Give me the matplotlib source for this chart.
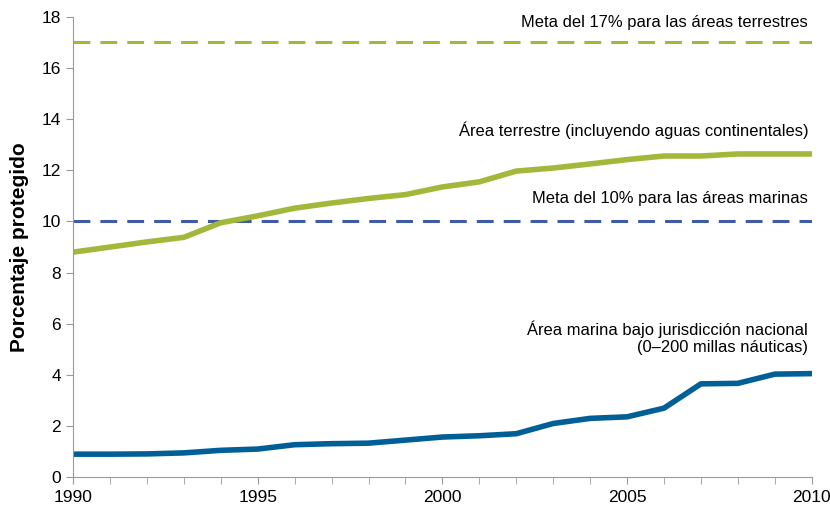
import matplotlib
matplotlib.use("Agg")
import matplotlib.pyplot as plt
from matplotlib.ticker import MultipleLocator

plt.rcParams["font.family"] = ["Liberation Sans", "DejaVu Sans"]

years = list(range(1990, 2011))
terrestre = [8.8, 9.0, 9.2, 9.38, 9.95, 10.22, 10.52, 10.72, 10.9, 11.05, 11.35,
             11.55, 11.97, 12.09, 12.25, 12.42, 12.56, 12.56, 12.64, 12.64, 12.64]
marina = [0.9, 0.9, 0.91, 0.95, 1.05, 1.1, 1.27, 1.31, 1.33, 1.45, 1.57,
          1.62, 1.7, 2.1, 2.3, 2.36, 2.7, 3.65, 3.67, 4.03, 4.05]
meta_terrestre = 17
meta_marina = 10

verde = "#a2b83a"
azul = "#005f96"
azul_meta = "#3f5aa6"
gris = "#9a9a9a"

fig = plt.figure(figsize=(8.3, 5.12), dpi=100)
ax = fig.add_axes([0.088, 0.068, 0.89, 0.899])

ax.axhline(meta_terrestre, color=verde, lw=2.2, dashes=(5.5, 3.3))
ax.axhline(meta_marina, color=azul_meta, lw=2.2, dashes=(5.5, 3.3))
ax.plot(years, terrestre, color=verde, lw=4, solid_capstyle="round")
ax.plot(years, marina, color=azul, lw=4, solid_capstyle="round")

fs = 11.9
ax.text(2009.9, 17.8, "Meta del 17% para las áreas terrestres", ha="right", va="center", fontsize=fs)
ax.text(2009.9, 13.55, "Área terrestre (incluyendo aguas continentales)", ha="right", va="center", fontsize=fs)
ax.text(2009.9, 10.9, "Meta del 10% para las áreas marinas", ha="right", va="center", fontsize=fs)
ax.text(2009.9, 5.45, "Área marina bajo jurisdicción nacional\n(0–200 millas náuticas)", ha="right",
        va="center", fontsize=fs, multialignment="right", linespacing=1.2)

ax.set_xlim(1990, 2010)
ax.set_ylim(0, 18)
ax.xaxis.set_major_locator(MultipleLocator(5))
ax.xaxis.set_minor_locator(MultipleLocator(1))
ax.yaxis.set_major_locator(MultipleLocator(2))
ax.set_ylabel("Porcentaje protegido", fontsize=15, fontweight="bold", labelpad=9)

for s in ["top", "right"]:
    ax.spines[s].set_visible(False)
for s in ["left", "bottom"]:
    ax.spines[s].set_color(gris)
ax.tick_params(which="both", direction="out", color=gris, labelsize=12.5)
ax.tick_params(which="major", length=5)
ax.tick_params(which="minor", length=5)
ax.tick_params(axis="x", pad=4)

fig.savefig("out.png", dpi=100)
